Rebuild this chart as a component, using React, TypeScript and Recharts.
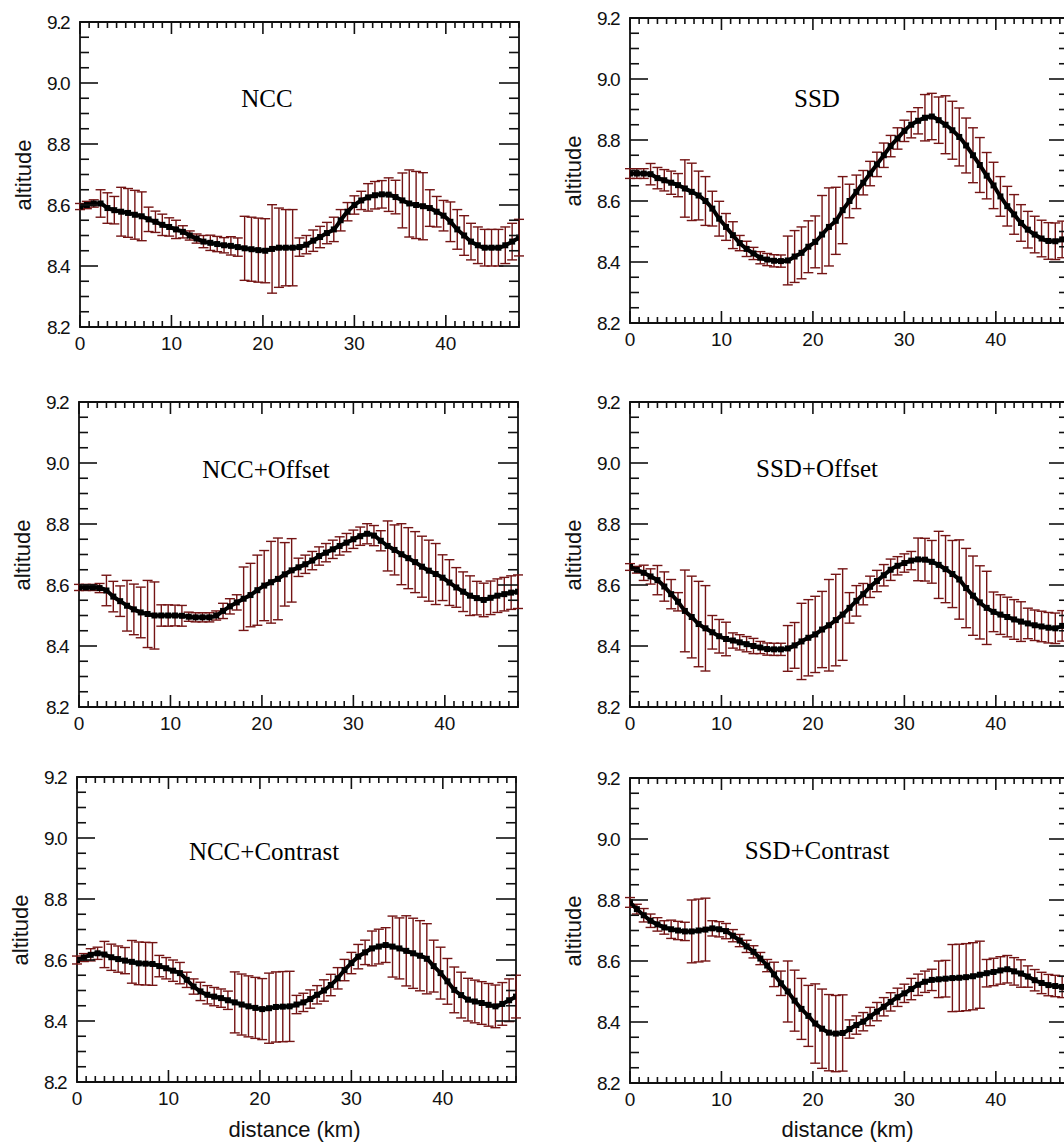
import React from 'react';
import { ErrorBar, Line, LineChart, ReferenceArea, XAxis, YAxis } from 'recharts';

// distance along the track (km), one sample every 0.75 km
const distance = [
  0, 0.75, 1.5, 2.25, 3, 3.75, 4.5, 5.25, 6, 6.75, 7.5, 8.25, 9,
  9.75, 10.5, 11.25, 12, 12.75, 13.5, 14.25, 15, 15.75, 16.5, 17.25, 18, 18.75,
  19.5, 20.25, 21, 21.75, 22.5, 23.25, 24, 24.75, 25.5, 26.25, 27, 27.75, 28.5,
  29.25, 30, 30.75, 31.5, 32.25, 33, 33.75, 34.5, 35.25, 36, 36.75, 37.5, 38.25,
  39, 39.75, 40.5, 41.25, 42, 42.75, 43.5, 44.25, 45, 45.75, 46.5, 47.25, 48,
];

const xTicks = [
  0, 1, 2, 3, 4, 5, 6, 7, 8, 9, 10, 11, 12, 13, 14, 15, 16, 17, 18, 19, 20, 21, 22, 23, 24,
  25, 26, 27, 28, 29, 30, 31, 32, 33, 34, 35, 36, 37, 38, 39, 40, 41, 42, 43, 44, 45, 46, 47, 48,
];
const yTicks = [
  8.2, 8.25, 8.3, 8.35, 8.4, 8.45, 8.5, 8.55, 8.6, 8.65, 8.7, 8.75, 8.8, 8.85, 8.9, 8.95,
  9.0, 9.05, 9.1, 9.15, 9.2,
];

// NCC
const nccAlt = [
  8.595, 8.6, 8.605, 8.605, 8.59, 8.583, 8.578, 8.574, 8.568, 8.563, 8.553, 8.545, 8.535,
  8.528, 8.52, 8.512, 8.5, 8.49, 8.48, 8.476, 8.472, 8.468, 8.466, 8.462, 8.458, 8.455,
  8.452, 8.45, 8.456, 8.46, 8.46, 8.46, 8.462, 8.47, 8.483, 8.495, 8.508, 8.52, 8.55,
  8.578, 8.6, 8.615, 8.625, 8.632, 8.635, 8.634, 8.626, 8.615, 8.605, 8.6, 8.596, 8.59,
  8.578, 8.565, 8.545, 8.52, 8.5, 8.48, 8.468, 8.46, 8.46, 8.46, 8.468, 8.48, 8.493,
];
const nccErr = [
  0.01, 0.012, 0.012, 0.045, 0.05, 0.045, 0.08, 0.08, 0.08, 0.08, 0.04, 0.035, 0.035,
  0.03, 0.03, 0.02, 0.015, 0.015, 0.02, 0.025, 0.025, 0.025, 0.03, 0.03, 0.105, 0.105,
  0.105, 0.105, 0.145, 0.13, 0.125, 0.125, 0.03, 0.03, 0.035, 0.035, 0.035, 0.04, 0.035,
  0.03, 0.03, 0.03, 0.045, 0.045, 0.045, 0.055, 0.055, 0.09, 0.11, 0.11, 0.11, 0.06,
  0.05, 0.05, 0.065, 0.065, 0.065, 0.06, 0.06, 0.06, 0.06, 0.06, 0.06, 0.06, 0.06,
];

// SSD
const ssdAlt = [
  8.69, 8.69, 8.69, 8.688, 8.675, 8.668, 8.66, 8.652, 8.641, 8.63, 8.618, 8.6, 8.575,
  8.542, 8.515, 8.488, 8.462, 8.443, 8.428, 8.414, 8.408, 8.404, 8.403, 8.405, 8.418, 8.43,
  8.45, 8.466, 8.49, 8.515, 8.535, 8.57, 8.6, 8.63, 8.66, 8.69, 8.72, 8.75, 8.78,
  8.805, 8.83, 8.85, 8.863, 8.873, 8.877, 8.865, 8.85, 8.832, 8.81, 8.782, 8.75, 8.718,
  8.683, 8.651, 8.615, 8.583, 8.556, 8.528, 8.506, 8.49, 8.477, 8.469, 8.468, 8.474, 8.48,
];
const ssdErr = [
  0.016, 0.016, 0.016, 0.035, 0.035, 0.035, 0.038, 0.038, 0.094, 0.094, 0.08, 0.08, 0.057,
  0.057, 0.044, 0.044, 0.025, 0.025, 0.02, 0.02, 0.02, 0.02, 0.02, 0.08, 0.085, 0.085,
  0.085, 0.085, 0.128, 0.128, 0.11, 0.11, 0.055, 0.055, 0.04, 0.04, 0.04, 0.04, 0.035,
  0.035, 0.035, 0.043, 0.043, 0.076, 0.076, 0.076, 0.095, 0.095, 0.095, 0.09, 0.09, 0.09,
  0.076, 0.076, 0.065, 0.065, 0.065, 0.06, 0.06, 0.06, 0.06, 0.06, 0.06, 0.06, 0.06,
];

// NCC+Offset
const nccOffAlt = [
  8.592, 8.592, 8.592, 8.59, 8.582, 8.562, 8.547, 8.532, 8.52, 8.51, 8.505, 8.5, 8.5,
  8.5, 8.5, 8.499, 8.496, 8.494, 8.494, 8.494, 8.5, 8.515, 8.53, 8.543, 8.555, 8.567,
  8.583, 8.598, 8.609, 8.62, 8.635, 8.648, 8.658, 8.668, 8.68, 8.695, 8.706, 8.717, 8.728,
  8.739, 8.75, 8.76, 8.768, 8.762, 8.745, 8.728, 8.715, 8.701, 8.688, 8.675, 8.66, 8.647,
  8.636, 8.624, 8.608, 8.592, 8.578, 8.565, 8.557, 8.551, 8.558, 8.565, 8.57, 8.575, 8.578,
];
const nccOffErr = [
  0.01, 0.01, 0.01, 0.015, 0.05, 0.05, 0.05, 0.083, 0.083, 0.083, 0.11, 0.11, 0.035,
  0.035, 0.034, 0.034, 0.015, 0.015, 0.015, 0.015, 0.015, 0.025, 0.025, 0.025, 0.104, 0.104,
  0.115, 0.115, 0.134, 0.134, 0.104, 0.104, 0.03, 0.03, 0.03, 0.03, 0.03, 0.03, 0.03,
  0.03, 0.03, 0.03, 0.033, 0.033, 0.033, 0.082, 0.082, 0.1, 0.1, 0.1, 0.1, 0.1,
  0.1, 0.075, 0.075, 0.065, 0.065, 0.065, 0.055, 0.055, 0.055, 0.055, 0.055, 0.055, 0.055,
];

// SSD+Offset
const ssdOffAlt = [
  8.659, 8.65, 8.64, 8.628, 8.616, 8.595, 8.57, 8.545, 8.515, 8.495, 8.472, 8.458, 8.445,
  8.432, 8.423, 8.418, 8.412, 8.406, 8.4, 8.395, 8.39, 8.389, 8.389, 8.392, 8.402, 8.415,
  8.427, 8.438, 8.454, 8.468, 8.485, 8.503, 8.525, 8.548, 8.57, 8.594, 8.613, 8.632, 8.65,
  8.663, 8.672, 8.68, 8.684, 8.683, 8.676, 8.666, 8.652, 8.636, 8.618, 8.59, 8.565, 8.543,
  8.525, 8.512, 8.503, 8.495, 8.487, 8.48, 8.474, 8.468, 8.464, 8.46, 8.458, 8.466, 8.475,
];
const ssdOffErr = [
  0.011, 0.011, 0.025, 0.025, 0.048, 0.048, 0.048, 0.03, 0.134, 0.134, 0.14, 0.14, 0.055,
  0.055, 0.055, 0.025, 0.025, 0.025, 0.025, 0.02, 0.02, 0.02, 0.02, 0.075, 0.075, 0.125,
  0.125, 0.125, 0.125, 0.15, 0.15, 0.15, 0.05, 0.05, 0.035, 0.035, 0.035, 0.035, 0.035,
  0.03, 0.03, 0.03, 0.07, 0.07, 0.07, 0.11, 0.11, 0.11, 0.13, 0.13, 0.13, 0.12,
  0.12, 0.065, 0.065, 0.065, 0.065, 0.065, 0.05, 0.05, 0.05, 0.05, 0.05, 0.05, 0.05,
];

// NCC+Contrast
const nccConAlt = [
  8.6, 8.608, 8.617, 8.622, 8.618, 8.609, 8.603, 8.598, 8.594, 8.589, 8.588, 8.587, 8.58,
  8.573, 8.565, 8.557, 8.535, 8.513, 8.497, 8.486, 8.48, 8.475, 8.468, 8.461, 8.454, 8.448,
  8.443, 8.439, 8.442, 8.446, 8.447, 8.448, 8.454, 8.461, 8.472, 8.486, 8.5, 8.518, 8.54,
  8.567, 8.59, 8.611, 8.625, 8.638, 8.644, 8.649, 8.644, 8.638, 8.63, 8.622, 8.614, 8.604,
  8.58, 8.557, 8.53, 8.502, 8.485, 8.47, 8.464, 8.459, 8.453, 8.448, 8.456, 8.468, 8.48,
];
const nccConErr = [
  0.013, 0.013, 0.02, 0.02, 0.043, 0.043, 0.043, 0.043, 0.07, 0.07, 0.07, 0.07, 0.035,
  0.035, 0.035, 0.035, 0.025, 0.025, 0.03, 0.03, 0.03, 0.03, 0.03, 0.1, 0.1, 0.1,
  0.1, 0.1, 0.115, 0.115, 0.115, 0.115, 0.03, 0.03, 0.03, 0.03, 0.035, 0.035, 0.035,
  0.035, 0.035, 0.04, 0.04, 0.057, 0.057, 0.057, 0.1, 0.1, 0.115, 0.115, 0.115, 0.115,
  0.085, 0.085, 0.075, 0.075, 0.075, 0.07, 0.07, 0.07, 0.07, 0.07, 0.07, 0.07, 0.07,
];

// SSD+Contrast
const ssdConAlt = [
  8.792, 8.77, 8.75, 8.732, 8.72, 8.71, 8.704, 8.7, 8.697, 8.697, 8.7, 8.703, 8.707,
  8.704, 8.698, 8.683, 8.667, 8.648, 8.63, 8.608, 8.585, 8.556, 8.527, 8.5, 8.47, 8.443,
  8.42, 8.395, 8.378, 8.365, 8.362, 8.364, 8.377, 8.39, 8.401, 8.418, 8.434, 8.45, 8.466,
  8.481, 8.494, 8.508, 8.522, 8.532, 8.538, 8.54, 8.542, 8.544, 8.545, 8.547, 8.55, 8.555,
  8.56, 8.564, 8.569, 8.573, 8.566, 8.559, 8.549, 8.537, 8.528, 8.521, 8.518, 8.515, 8.515,
];
const ssdConErr = [
  0.016, 0.016, 0.022, 0.022, 0.022, 0.022, 0.03, 0.03, 0.03, 0.103, 0.103, 0.103, 0.025,
  0.025, 0.025, 0.02, 0.02, 0.02, 0.02, 0.02, 0.02, 0.04, 0.04, 0.1, 0.1, 0.1,
  0.1, 0.13, 0.13, 0.125, 0.125, 0.125, 0.03, 0.03, 0.03, 0.03, 0.03, 0.03, 0.03,
  0.03, 0.03, 0.035, 0.035, 0.035, 0.035, 0.06, 0.06, 0.11, 0.11, 0.11, 0.11, 0.11,
  0.045, 0.045, 0.045, 0.045, 0.045, 0.045, 0.035, 0.035, 0.035, 0.035, 0.035, 0.035, 0.035,
];

// plot box size and the chart margins around it
const PW = 439;
const PH = 305;
const ML = 70;
const MT = 20;
const CW = PW + ML + 20;
const CH = PH + MT + 40;

const errColour = '#741414';
const axisColour = '#111';
const sans = '"Liberation Sans", Arial, Helvetica, sans-serif';
const serif = '"Liberation Serif", "Times New Roman", serif';

// ticks point inward, drawn on both bottom and top edges
const XTick = (props: any) => {
  const { x, y, payload } = props;
  const v = payload.value;
  const major = v % 10 === 0;
  const len = major ? 12 : 6;
  return (
    <g>
      <line x1={x} y1={y} x2={x} y2={y - len} stroke={axisColour} strokeWidth={1.6} />
      <line x1={x} y1={y - PH} x2={x} y2={y - PH + len} stroke={axisColour} strokeWidth={1.6} />
      {major && v < 48 && (
        <text x={x} y={y + 23} textAnchor="middle" fontSize={19} fontFamily={sans} fill="#111">
          {v}
        </text>
      )}
    </g>
  );
};

// ticks on left and right edges
const YTick = (props: any) => {
  const { x, y, payload } = props;
  const v = payload.value;
  const major = Math.round(v * 100) % 20 === 0;
  return (
    <g>
      <line x1={x} y1={y} x2={x + (major ? 18 : 9)} y2={y} stroke={axisColour} strokeWidth={1.6} />
      <line x1={x + PW} y1={y} x2={x + PW - (major ? 20 : 10)} y2={y} stroke={axisColour} strokeWidth={1.6} />
      {major && (
        <text x={x - 11} y={y} textAnchor="end" dominantBaseline="central" fontSize={19}
          fontFamily={sans} fill="#111" letterSpacing={-1.5}>
          {v.toFixed(1)}
        </text>
      )}
    </g>
  );
};

const squareDot = (props: any) => (
  <rect key={`sq-${props.index}`} x={props.cx - 3} y={props.cy - 3} width={6} height={6} fill="#000" />
);

interface PanelProps {
  left: number;
  top: number;
  title: string;
  titleY: number;
  alt: number[];
  err: number[];
  xLabel?: boolean;
}

const Panel: React.FC<PanelProps> = ({ left, top, title, titleY, alt, err, xLabel }) => {
  const data = distance.map((d, i) => ({ d, alt: alt[i], err: err[i] }));
  return (
    <>
      <div style={{ position: 'absolute', left: left - ML, top: top - MT }}>
        <LineChart width={CW} height={CH} data={data} margin={{ top: MT, right: 20, bottom: 10, left: 10 }}>
          <XAxis dataKey="d" type="number" domain={[0, 48]} ticks={xTicks} interval={0}
            tick={XTick} tickLine={false} axisLine={false} tickSize={0} tickMargin={0} height={30} allowDataOverflow />
          <YAxis type="number" domain={[8.2, 9.2]} ticks={yTicks} interval={0}
            tick={YTick} tickLine={false} axisLine={false} tickSize={0} tickMargin={0} width={60} allowDataOverflow />
          <ReferenceArea x1={0} x2={48} y1={8.2} y2={9.2} fill="none" stroke={axisColour} strokeWidth={1.8} />
          {/* error bars first so the black curve sits on top */}
          <Line dataKey="alt" stroke="none" dot={false} activeDot={false} isAnimationActive={false}>
            <ErrorBar dataKey="err" width={5} stroke={errColour} strokeWidth={1.4} isAnimationActive={false} />
          </Line>
          <Line type="monotone" dataKey="alt" stroke="#000" strokeWidth={4} dot={squareDot}
            activeDot={false} isAnimationActive={false} />
        </LineChart>
      </div>
      <div style={{
        position: 'absolute', left: left + 187, top: titleY - 21, transform: 'translateX(-50%)',
        fontFamily: serif, fontSize: 25, lineHeight: 1, whiteSpace: 'nowrap', color: '#000',
      }}>
        {title}
      </div>
      <div style={{
        position: 'absolute', left: left - 56, top: top + PH / 2, transform: 'translate(-50%, -50%) rotate(-90deg)',
        fontFamily: sans, fontSize: 22, lineHeight: 1, whiteSpace: 'nowrap', color: '#111',
      }}>
        altitude
      </div>
      {xLabel && (
        <div style={{
          position: 'absolute', left: left + PW / 2 - 2, top: 1119, transform: 'translateX(-50%)',
          fontFamily: sans, fontSize: 22, lineHeight: 1, whiteSpace: 'nowrap', color: '#111',
        }}>
          distance (km)
        </div>
      )}
    </>
  );
};

const App: React.FC = () => (
  <div style={{ position: 'absolute', left: 0, top: 0, width: 1064, height: 1147, overflow: 'hidden', background: '#fff' }}>
    <Panel left={80} top={22} title="NCC" titleY={107} alt={nccAlt} err={nccErr} />
    <Panel left={630} top={18} title="SSD" titleY={107} alt={ssdAlt} err={ssdErr} />
    <Panel left={79} top={402} title="NCC+Offset" titleY={478} alt={nccOffAlt} err={nccOffErr} />
    <Panel left={630} top={402} title="SSD+Offset" titleY={477} alt={ssdOffAlt} err={ssdOffErr} />
    <Panel left={77} top={777} title="NCC+Contrast" titleY={860} alt={nccConAlt} err={nccConErr} xLabel />
    <Panel left={630} top={778} title="SSD+Contrast" titleY={859} alt={ssdConAlt} err={ssdConErr} xLabel />
  </div>
);

export default App;
